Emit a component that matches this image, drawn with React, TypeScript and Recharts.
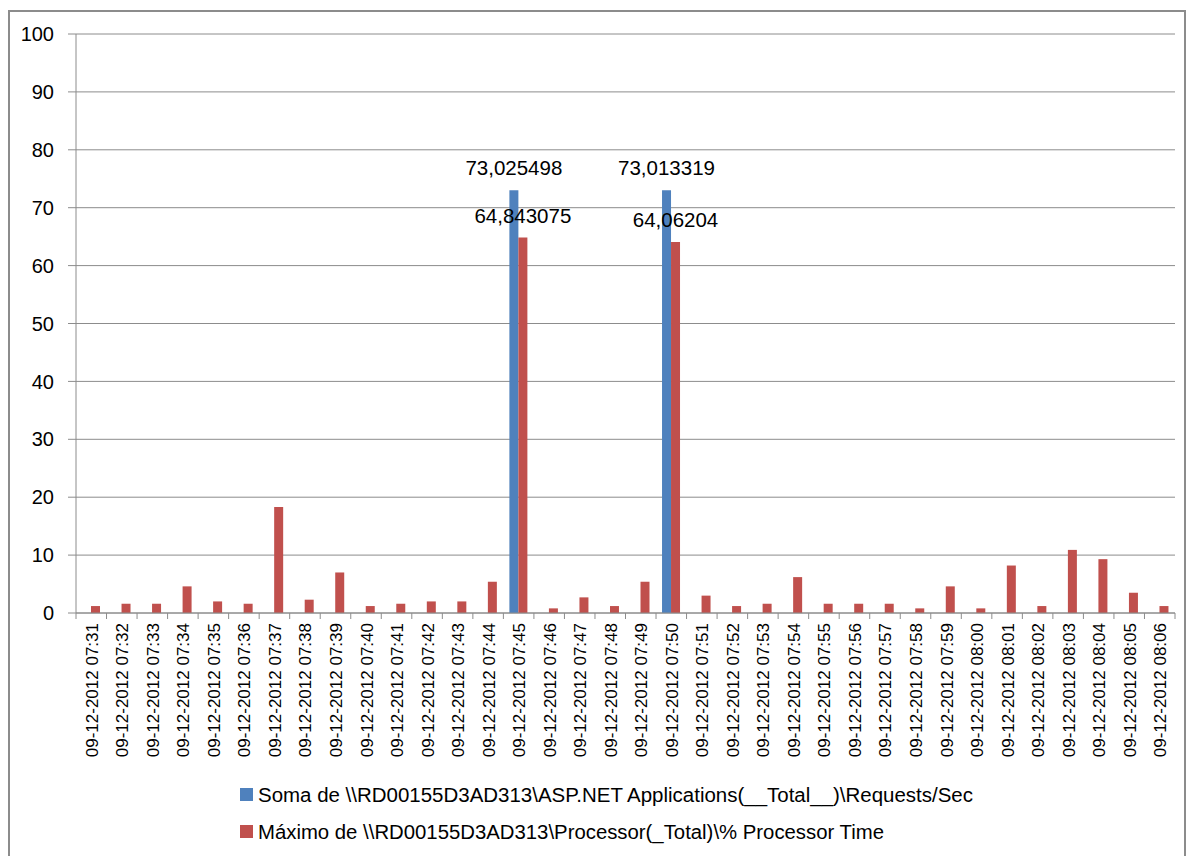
import React from 'react';
import { BarChart, Bar, XAxis, YAxis, CartesianGrid, LabelList } from 'recharts';

const times = [
  '07:31', '07:32', '07:33', '07:34', '07:35', '07:36', '07:37', '07:38', '07:39', '07:40',
  '07:41', '07:42', '07:43', '07:44', '07:45', '07:46', '07:47', '07:48', '07:49', '07:50',
  '07:51', '07:52', '07:53', '07:54', '07:55', '07:56', '07:57', '07:58', '07:59', '08:00',
  '08:01', '08:02', '08:03', '08:04', '08:05', '08:06',
];
const categories = times.map((t) => `09-12-2012 ${t}`);

const requests = [
  0, 0, 0, 0, 0, 0, 0, 0, 0, 0,
  0, 0, 0, 0, 73.025498, 0, 0, 0, 0, 73.013319,
  0, 0, 0, 0, 0, 0, 0, 0, 0, 0,
  0, 0, 0, 0, 0, 0,
];
const processor = [
  1.2, 1.6, 1.6, 4.6, 2.0, 1.6, 18.3, 2.3, 7.0, 1.2,
  1.6, 2.0, 2.0, 5.4, 64.843075, 0.8, 2.7, 1.2, 5.4, 64.06204,
  3.0, 1.2, 1.6, 6.2, 1.6, 1.6, 1.6, 0.8, 4.6, 0.8,
  8.2, 1.2, 10.9, 9.3, 3.5, 1.2,
];
const yTicks = [0, 10, 20, 30, 40, 50, 60, 70, 80, 90, 100];
const seriesNames = [
  'Soma de \\\\RD00155D3AD313\\ASP.NET Applications(__Total__)\\Requests/Sec',
  'Máximo de \\\\RD00155D3AD313\\Processor(_Total)\\% Processor Time',
];

const BLUE = '#4F81BD';
const RED = '#C0504D';
const GRID = '#8c8c8c';

const data = categories.map((name, i) => ({ name, req: requests[i], cpu: processor[i] }));

const ValueLabel = (props: any) => {
  const { x, y, width, value } = props;
  if (value == null || value < 50) return null;
  return (
    <text x={x + width / 2} y={y - 15} textAnchor="middle" fontSize={20.5}
      fontFamily="Liberation Sans, sans-serif" fill="#000">
      {String(value).replace('.', ',')}
    </text>
  );
};

const DateTick = (props: any) => {
  const { x, y, payload, index } = props;
  const off = payload.offset ?? 15.26;
  return (
    <g>
      <line x1={x - off} y1={y} x2={x - off} y2={y + 6} stroke={GRID} />
      {index === categories.length - 1 && (
        <line x1={x + off} y1={y} x2={x + off} y2={y + 6} stroke={GRID} />
      )}
      <text x={0} y={0} transform={`translate(${x + 1},${y + 10}) rotate(-90)`}
        textAnchor="end" dominantBaseline="central" fontSize={17}
        fontFamily="Liberation Sans, sans-serif" fill="#000">
        {payload.value}
      </text>
    </g>
  );
};

export default function App() {
  return (
    <div style={{ position: 'relative', width: 1178, height: 860, marginTop: 2, border: `2px solid ${GRID}`, boxSizing: 'border-box', background: '#fff' }}>
      <BarChart width={1174} height={856} data={data} barGap={0} barSize={9}
        margin={{ top: 22, right: 9, left: 0, bottom: 105 }}>
        <CartesianGrid vertical={false} stroke={GRID} />
        <XAxis dataKey="name" interval={0} height={150} tickLine={false} tickSize={0} tickMargin={0}
          stroke={GRID} tick={<DateTick />} />
        <YAxis width={66} domain={[0, 100]} ticks={yTicks} interval={0} tickSize={8} tickMargin={14}
          stroke={GRID} tick={{ fill: '#000', fontSize: 20, fontFamily: 'Liberation Sans, sans-serif' }} />
        <Bar dataKey="req" fill={BLUE} isAnimationActive={false}>
          <LabelList dataKey="req" content={<ValueLabel />} />
        </Bar>
        <Bar dataKey="cpu" fill={RED} isAnimationActive={false}>
          <LabelList dataKey="cpu" content={<ValueLabel />} />
        </Bar>
      </BarChart>
      <svg width={1174} height={100} style={{ position: 'absolute', left: 0, top: 766 }}>
        {seriesNames.map((n, i) => (
          <g key={n}>
            <rect x={230} y={10 + i * 37} width={13} height={13} fill={i === 0 ? BLUE : RED} />
            <text x={248} y={16.5 + i * 37} dominantBaseline="central" fontSize={20}
              fontFamily="Liberation Sans Narrow, Liberation Sans, sans-serif" fill="#000"
              textLength={i === 0 ? 715 : 626} lengthAdjust="spacingAndGlyphs">
              {n}
            </text>
          </g>
        ))}
      </svg>
    </div>
  );
}
